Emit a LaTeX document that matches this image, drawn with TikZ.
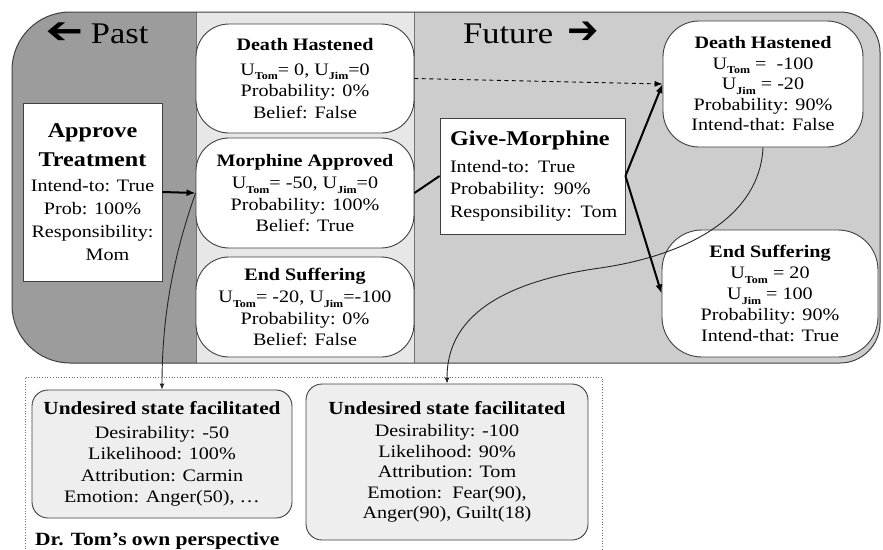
\documentclass[tikz,border=0pt]{standalone}
\usepackage{fontspec}
\usepackage{graphicx}
\setmainfont{Liberation Serif}[FakeStretch=1.15]
\newfontfamily\arrowfont{DejaVu Sans}
\usetikzlibrary{arrows.meta}

\definecolor{pastgray}{RGB}{156,156,156}
\definecolor{nowgray}{RGB}{231,231,231}
\definecolor{futgray}{RGB}{205,205,205}
\definecolor{appraisal}{RGB}{238,238,238}

% bold subscript for the utility values
\newcommand\usub[1]{\raisebox{-0.26em}{\fontsize{10.5}{11}\selectfont\bfseries #1}}
\newcommand\bodyfont{\fontsize{17.5}{21.5}\selectfont}

\begin{document}
\begin{tikzpicture}[x=1pt,y=-1pt,
  midbox/.style={draw=black!75, line width=0.9pt, fill=white, rounded corners=33,
    minimum width=218pt, inner sep=0pt, align=center, font=\bodyfont},
  outbox/.style={draw=black!75, line width=0.9pt, fill=white, rounded corners=36,
    inner sep=0pt, align=center, font=\bodyfont},
  actbox/.style={draw=black!75, line width=0.9pt, fill=white, inner sep=0pt},
  apprbox/.style={draw=black!75, line width=0.9pt, fill=appraisal, rounded corners=16,
    inner sep=0pt, align=center, font=\bodyfont},
  conn/.style={line width=2pt, black},
  connarrow/.style={conn, -{Latex[length=9pt,width=7pt]}},
  thinarrow/.style={line width=0.9pt, black!85, -{Latex[length=6pt,width=5pt]}},
  banner/.style={anchor=base west, inner sep=0pt, font=\fontsize{30}{30}\selectfont}
]
\useasboundingbox (0,0) rectangle (883,549);

% time line: past / present / future bands
\fill[futgray] (70,12) -- (840,12) arc[start angle=270,end angle=360,radius=40]
  -- (880,323) arc[start angle=0,end angle=90,radius=40]
  -- (70,363) arc[start angle=90,end angle=180,radius=58]
  -- (12,70) arc[start angle=180,end angle=270,radius=58] -- cycle;
\begin{scope}
  \clip (70,12) -- (840,12) arc[start angle=270,end angle=360,radius=40]
    -- (880,323) arc[start angle=0,end angle=90,radius=40]
    -- (70,363) arc[start angle=90,end angle=180,radius=58]
    -- (12,70) arc[start angle=180,end angle=270,radius=58] -- cycle;
  \fill[pastgray] (0,0) rectangle (196,549);
  \fill[nowgray] (196,0) rectangle (414,549);
\end{scope}
\draw[black!55, line width=0.6pt] (196,12) -- (196,363) (414,12) -- (414,363);
\draw[black!75, line width=1pt] (70,12) -- (840,12) arc[start angle=270,end angle=360,radius=40]
  -- (880,323) arc[start angle=0,end angle=90,radius=40]
  -- (70,363) arc[start angle=90,end angle=180,radius=58]
  -- (12,70) arc[start angle=180,end angle=270,radius=58] -- cycle;

\node[banner] (past) at (46,43)
  {{\arrowfont\bfseries\scalebox{1.5}[1.25]{\reflectbox{➔}}}\hspace{7pt}Past};
\node[banner] (future) at (463,43)
  {Future\hspace{14pt}{\arrowfont\bfseries\scalebox{1.25}[1.3]{➔}}};

% perspective frame
\draw[black!55, line width=0.7pt, dotted] (25,549) -- (25,377) -- (602,377) -- (602,549);

% action nodes
\node[actbox, minimum width=139pt, minimum height=178pt, align=center,
      font=\fontsize{17.5}{23}\selectfont] (approve) at (92.5,192)
  {\textbf{\fontsize{21}{23}\selectfont Approve}\\[6pt]
   \textbf{\fontsize{21}{23}\selectfont Treatment}\\[2pt]
   Intend-to: True\\
   Prob: 100\%\\
   Responsibility:\\
   \hspace*{30pt}Mom};
\node[actbox, minimum width=185pt, minimum height=116pt, text width=172pt, align=left,
      font=\fontsize{17.5}{22.5}\selectfont] (give) at (532.5,176)
  {\hspace*{3.5pt}\textbf{\fontsize{21}{23}\selectfont Give-Morphine}\\[4pt]
   \hspace*{3.5pt}Intend-to: True\\
   \hspace*{3.5pt}Probability: 90\%\\
   \hspace*{3.5pt}Responsibility: Tom};

% present states
\node[midbox, minimum height=109pt] (dhnow) at (305,78.5)
  {\textbf{Death Hastened}\\[3pt]
   U\usub{Tom}= 0, U\usub{Jim}=0\\
   Probability: 0\%\\
   Belief: False};
\node[midbox, minimum height=110pt] (manow) at (305,193)
  {\textbf{Morphine Approved}\\[1pt]
   U\usub{Tom}= -50, U\usub{Jim}=0\\
   Probability: 100\%\\
   Belief: True};
\node[midbox, minimum height=100pt] (esnow) at (305,307)
  {\textbf{End Suffering}\\[1pt]
   U\usub{Tom}= -20, U\usub{Jim}=-100\\
   Probability: 0\%\\
   Belief: False};

% future states
\node[outbox, minimum width=200pt, minimum height=126pt, font=\fontsize{17.5}{20.5}\selectfont] (dhfut) at (763,84)
  {\textbf{Death Hastened}\\
   U\usub{Tom} = \ -100\\
   U\usub{Jim} = -20\\
   Probability: 90\%\\
   Intend-that: False};
\node[outbox, minimum width=216pt, minimum height=127pt, rounded corners=40, font=\fontsize{17.5}{21}\selectfont] (esfut) at (770,293.5)
  {\textbf{End Suffering}\\
   U\usub{Tom} = 20\\
   U\usub{Jim} = 100\\
   Probability: 90\%\\
   Intend-that: True};

% appraisals
\node[apprbox, minimum width=260pt, minimum height=128pt] (apprA) at (162,454)
  {\textbf{\fontsize{18.5}{21.5}\selectfont Undesired state facilitated}\\[2pt]
   Desirability: -50\\
   Likelihood: 100\%\\
   Attribution: Carmin\\
   Emotion: Anger(50), \dots};
\node[apprbox, minimum width=282pt, minimum height=156pt, font=\fontsize{17.5}{20.5}\selectfont] (apprB) at (447,462)
  {\textbf{\fontsize{18.5}{21.5}\selectfont Undesired state facilitated}\\[2pt]
   Desirability: -100\\
   Likelihood: 90\%\\
   Attribution: Tom\\
   Emotion:\ \ Fear(90),\\
   Anger(90), Guilt(18)};

\node[anchor=base west, inner sep=0pt, font=\fontsize{18.7}{20}\selectfont\bfseries] (persp) at (35,545)
  {Dr. Tom's own perspective};

% causal links
\draw[connarrow] (approve.east) -- (manow.west);
\draw[conn] (manow.east) -- (give.west);
\draw[connarrow] (give.east) -- (dhfut.west);
\draw[connarrow] (give.east) -- (esfut.west);
\draw[black, line width=0.9pt, dashed, dash pattern=on 4pt off 3.5pt, -{Latex[length=8pt,width=6pt]}] (dhnow.east) -- (dhfut.west);

% appraisal links
\draw[thinarrow] (manow.west) .. controls (172,260) and (162,320) .. (apprA.north);
\draw[thinarrow] (dhfut.south) .. controls (760,215) and (690,255) .. (600,268)
  .. controls (480,285) and (447,330) .. (apprB.north);
\end{tikzpicture}
\end{document}
